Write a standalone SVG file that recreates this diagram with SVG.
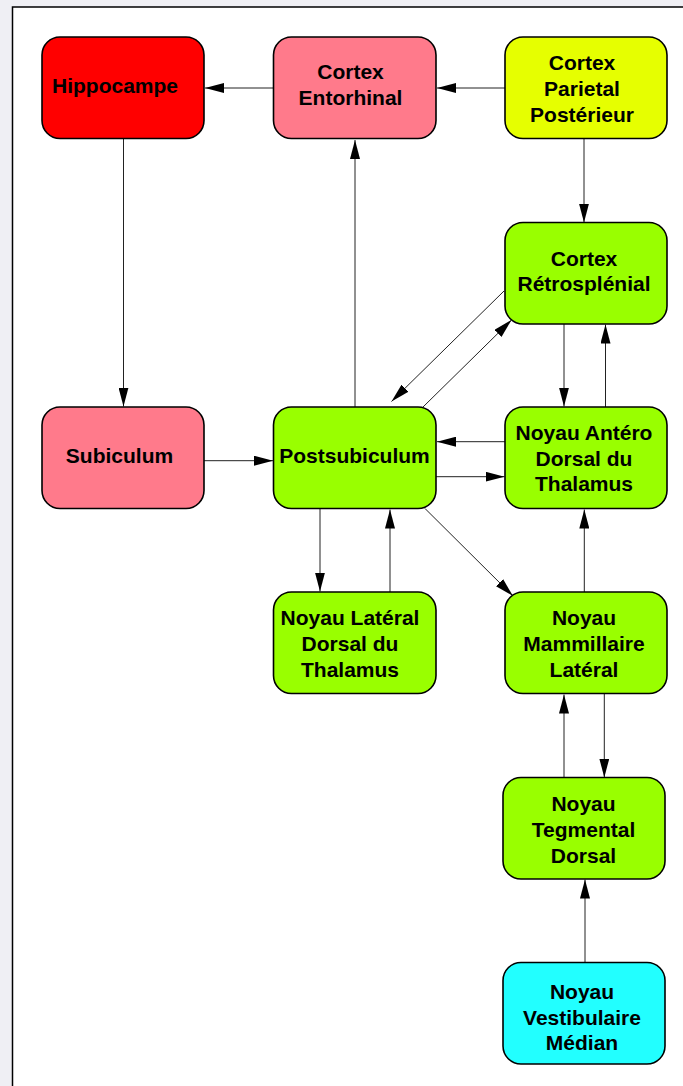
<svg xmlns="http://www.w3.org/2000/svg" width="683" height="1086" viewBox="0 0 683 1086">
<defs>
<marker id="ah" markerUnits="userSpaceOnUse" markerWidth="19" markerHeight="10" refX="19" refY="5" orient="auto">
<path d="M0,0 L19,5 L0,10 z" fill="#000"/>
</marker>
<style>
.n rect{stroke:#000;stroke-width:1.6}
.n text{font-family:"Liberation Sans",Arial,Helvetica,sans-serif;font-weight:bold;font-size:21px;text-anchor:middle;fill:#000}
#edges line{stroke:#222;stroke-width:1;fill:none;marker-end:url(#ah)}
.red{fill:#ff0000}.pink{fill:#ff7a8b}.yel{fill:#e6ff00}.grn{fill:#99ff00}.cyn{fill:#22ffff}
</style>
</defs>
<rect x="0" y="0" width="683" height="1086" fill="#efeff4"/>
<rect x="12.5" y="7" width="680" height="1090" fill="#fff" stroke="#000" stroke-width="1.5"/>

<g id="edges">
<line x1="273.5" y1="88" x2="205" y2="88"/>
<line x1="505" y1="88" x2="437" y2="88"/>
<line x1="584" y1="139" x2="584" y2="222.5"/>
<line x1="123.5" y1="139" x2="123.5" y2="406.5"/>
<line x1="204" y1="460.7" x2="273" y2="460.7"/>
<line x1="355" y1="407" x2="355" y2="140"/>
<line x1="504" y1="291" x2="391.5" y2="401.5"/>
<line x1="423" y1="407" x2="511.5" y2="320"/>
<line x1="564" y1="324" x2="564" y2="406.5"/>
<line x1="605.5" y1="407" x2="605.5" y2="324.5"/>
<line x1="505" y1="441.7" x2="437" y2="441.7"/>
<line x1="436" y1="476.7" x2="504.5" y2="476.7"/>
<line x1="320" y1="509" x2="320" y2="591.5"/>
<line x1="390" y1="592" x2="390" y2="509.5"/>
<line x1="425" y1="508.5" x2="513" y2="596"/>
<line x1="584.3" y1="592" x2="584.3" y2="509.5"/>
<line x1="564" y1="778" x2="564" y2="694.5"/>
<line x1="604.3" y1="694" x2="604.3" y2="777.5"/>
<line x1="585" y1="963" x2="585" y2="879.5"/>
</g>

<g id="hippocampe" class="n">
<rect class="red" x="42" y="37" width="162" height="101.5" rx="18"/>
<text x="115" y="93">Hippocampe</text>
</g>
<g id="entorhinal" class="n">
<rect class="pink" x="273.5" y="37" width="162.5" height="101.5" rx="18"/>
<text x="350.5" y="79">Cortex</text>
<text x="350.5" y="105">Entorhinal</text>
</g>
<g id="parietal" class="n">
<rect class="yel" x="505" y="37" width="162" height="101.5" rx="18"/>
<text x="582" y="70">Cortex</text>
<text x="582" y="96">Parietal</text>
<text x="582" y="121.5">Postérieur</text>
</g>
<g id="retrosplenial" class="n">
<rect class="grn" x="505" y="222.5" width="162" height="101.5" rx="18"/>
<text x="584" y="265.5">Cortex</text>
<text x="584" y="290.5">Rétrosplénial</text>
</g>
<g id="subiculum" class="n">
<rect class="pink" x="42" y="407" width="162" height="101.5" rx="18"/>
<text x="119.5" y="462.5">Subiculum</text>
</g>
<g id="postsubiculum" class="n">
<rect class="grn" x="273.5" y="407" width="162.5" height="101.5" rx="18"/>
<text x="354.5" y="462.5">Postsubiculum</text>
</g>
<g id="anterodorsal" class="n">
<rect class="grn" x="505" y="407" width="162" height="101.5" rx="18"/>
<text x="584" y="440">Noyau Antéro</text>
<text x="584" y="466">Dorsal du</text>
<text x="584" y="491">Thalamus</text>
</g>
<g id="lateraldorsal" class="n">
<rect class="grn" x="273.5" y="592" width="162.5" height="101.5" rx="18"/>
<text x="350" y="625">Noyau Latéral</text>
<text x="350" y="651">Dorsal du</text>
<text x="350" y="676.5">Thalamus</text>
</g>
<g id="mammillaire" class="n">
<rect class="grn" x="505" y="592" width="162" height="101.5" rx="18"/>
<text x="584" y="625">Noyau</text>
<text x="584" y="651">Mammillaire</text>
<text x="584" y="676.5">Latéral</text>
</g>
<g id="tegmental" class="n">
<rect class="grn" x="503" y="777.5" width="162" height="101.5" rx="18"/>
<text x="583.5" y="810.5">Noyau</text>
<text x="583.5" y="836.5">Tegmental</text>
<text x="583.5" y="862.5">Dorsal</text>
</g>
<g id="vestibulaire" class="n">
<rect class="cyn" x="503" y="962.5" width="162" height="101.5" rx="18"/>
<text x="582" y="999">Noyau</text>
<text x="582" y="1024.5">Vestibulaire</text>
<text x="582" y="1050">Médian</text>
</g>
</svg>
